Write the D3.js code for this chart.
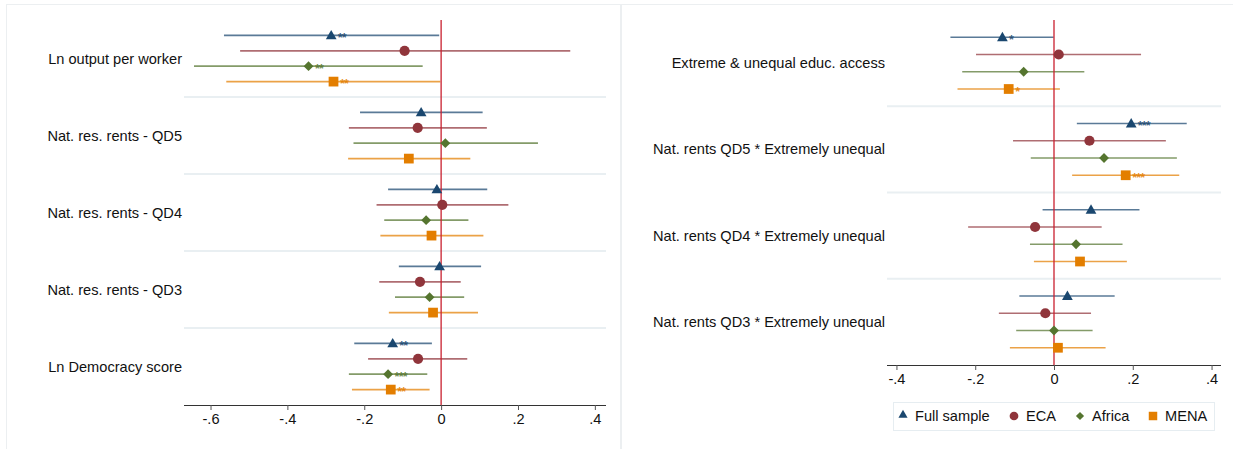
<!DOCTYPE html>
<html>
<head>
<meta charset="utf-8">
<script src="https://cdn.jsdelivr.net/npm/d3@7"></script>
<style>
  html, body { margin: 0; padding: 0; background: #fff; }
  svg { display: block; font-family: "Liberation Sans", Arial, Helvetica, sans-serif; }
</style>
</head>
<body>
<svg id="chart" width="1233" height="449"></svg>
<script>
// ---------------- DATA ----------------
const seriesNames = ["Full sample", "ECA", "Africa", "MENA"];
const seriesColors = ["#1a476f", "#90353b", "#55752f", "#e37e00"];

// Left panel
const leftCategories = ["Ln output per worker", "Nat. res. rents - QD5", "Nat. res. rents - QD4", "Nat. res. rents - QD3", "Ln Democracy score"];
const leftFullEst = [-0.286, -0.052, -0.011, -0.004, -0.126];
const leftFullLo  = [-0.565, -0.211, -0.138, -0.110, -0.226];
const leftFullHi  = [-0.005,  0.108,  0.120,  0.104, -0.024];
const leftFullStars = ["**", "", "", "", "**"];
const leftEcaEst = [-0.095, -0.061, 0.003, -0.055, -0.060];
const leftEcaLo  = [-0.523, -0.240, -0.168, -0.161, -0.190];
const leftEcaHi  = [ 0.336,  0.119,  0.175,  0.051,  0.068];
const leftEcaStars = ["", "", "", "", ""];
const leftAfrEst = [-0.345, 0.011, -0.039, -0.030, -0.138];
const leftAfrLo  = [-0.643, -0.228, -0.148, -0.120, -0.240];
const leftAfrHi  = [-0.048,  0.252,  0.071,  0.060, -0.036];
const leftAfrStars = ["**", "", "", "", "***"];
const leftMenaEst = [-0.280, -0.084, -0.025, -0.021, -0.131];
const leftMenaLo  = [-0.559, -0.242, -0.158, -0.136, -0.232];
const leftMenaHi  = [-0.002,  0.076,  0.110,  0.096, -0.030];
const leftMenaStars = ["**", "", "", "", "**"];
const leftTicks = [-0.6, -0.4, -0.2, 0, 0.2, 0.4];
const leftTickLabels = ["-.6", "-.4", "-.2", "0", ".2", ".4"];

// Right panel
const rightCategories = ["Extreme & unequal educ. access", "Nat. rents QD5 * Extremely unequal", "Nat. rents QD4 * Extremely unequal", "Nat. rents QD3 * Extremely unequal"];
const rightFullEst = [-0.131, 0.196, 0.094, 0.034];
const rightFullLo  = [-0.263, 0.058, -0.029, -0.088];
const rightFullHi  = [-0.001, 0.337, 0.217, 0.154];
const rightFullStars = ["*", "***", "", ""];
const rightEcaEst = [0.012, 0.090, -0.048, -0.022];
const rightEcaLo  = [-0.198, -0.104, -0.218, -0.140];
const rightEcaHi  = [0.221, 0.284, 0.121, 0.094];
const rightEcaStars = ["", "", "", ""];
const rightAfrEst = [-0.077, 0.127, 0.056, 0.000];
const rightAfrLo  = [-0.233, -0.059, -0.061, -0.096];
const rightAfrHi  = [0.077, 0.312, 0.174, 0.098];
const rightAfrStars = ["", "", "", ""];
const rightMenaEst = [-0.115, 0.182, 0.066, 0.010];
const rightMenaLo  = [-0.245, 0.046, -0.051, -0.112];
const rightMenaHi  = [0.015, 0.318, 0.185, 0.131];
const rightMenaStars = ["*", "***", "", ""];
const rightTicks = [-0.4, -0.2, 0, 0.2, 0.4];
const rightTickLabels = ["-.4", "-.2", "0", ".2", ".4"];

// ---------------- BUILD ----------------
function seriesRows(cats, est, lo, hi, stars) {
  return cats.map((c, i) => ({cat: c, est: est[i], lo: lo[i], hi: hi[i], stars: stars[i]}));
}
const leftSeries = [
  seriesRows(leftCategories, leftFullEst, leftFullLo, leftFullHi, leftFullStars),
  seriesRows(leftCategories, leftEcaEst, leftEcaLo, leftEcaHi, leftEcaStars),
  seriesRows(leftCategories, leftAfrEst, leftAfrLo, leftAfrHi, leftAfrStars),
  seriesRows(leftCategories, leftMenaEst, leftMenaLo, leftMenaHi, leftMenaStars)
];
const rightSeries = [
  seriesRows(rightCategories, rightFullEst, rightFullLo, rightFullHi, rightFullStars),
  seriesRows(rightCategories, rightEcaEst, rightEcaLo, rightEcaHi, rightEcaStars),
  seriesRows(rightCategories, rightAfrEst, rightAfrLo, rightAfrHi, rightAfrStars),
  seriesRows(rightCategories, rightMenaEst, rightMenaLo, rightMenaHi, rightMenaStars)
];

const symbolTypes = [d3.symbolTriangle, d3.symbolCircle, d3.symbolSquare, d3.symbolSquare];
const symbolSizes = [50, 82, 48, 95];
const symbolRot = [0, 0, 45, 0];

const svg = d3.select("#chart");

// panel frames
svg.append("rect").attr("x", 6.5).attr("y", 4.5).attr("width", 614).attr("height", 450)
  .attr("fill", "none").attr("stroke", "#eceff1").attr("stroke-width", 1);
svg.append("rect").attr("x", 621.5).attr("y", 4.5).attr("width", 612).attr("height", 450)
  .attr("fill", "none").attr("stroke", "#eceff1").attr("stroke-width", 1);

function drawPanel(cfg) {
  const g = svg.append("g");
  const x = d3.scaleLinear().domain(cfg.xDomain).range([cfg.x0, cfg.x1]);
  const y = d3.scaleBand().domain(cfg.categories).range([cfg.y0, cfg.y1]).paddingInner(0).paddingOuter(0);
  const inner = d3.scalePoint().domain(seriesNames).range([y.bandwidth() * 0.2, y.bandwidth() * 0.8]);

  // separators
  g.selectAll("line.sep").data(cfg.categories.slice(1)).join("line")
    .attr("x1", cfg.x0).attr("x2", cfg.x1)
    .attr("y1", d => y(d)).attr("y2", d => y(d))
    .attr("stroke", "#e9eff2").attr("stroke-width", 2);

  // category labels
  g.selectAll("text.cat").data(cfg.categories).join("text")
    .attr("x", cfg.labelX).attr("y", d => y(d) + y.bandwidth() / 2 + 5)
    .attr("text-anchor", "end").attr("font-size", "14.6px").attr("fill", "#111")
    .text(d => d);

  // axis
  const axis = d3.axisBottom(x).tickValues(cfg.ticks).tickSize(5).tickPadding(4)
    .tickFormat((d, i) => cfg.tickLabels[i]);
  const ax = g.append("g").attr("transform", `translate(0,${cfg.y1})`).call(axis);
  ax.select(".domain").attr("d", `M${cfg.x0},0.5H${cfg.x1}`).attr("stroke", "#333").attr("stroke-width", 1.2);
  ax.selectAll(".tick line").attr("stroke", "#555");
  ax.selectAll(".tick text").attr("font-size", "14.6px").attr("fill", "#111")
    .attr("font-family", "Liberation Sans, Arial, sans-serif");

  // CI lines
  cfg.series.forEach((rows, si) => {
    const sg = g.append("g");
    sg.selectAll("line").data(rows).join("line")
      .attr("x1", d => x(d.lo)).attr("x2", d => x(d.hi))
      .attr("y1", d => y(d.cat) + inner(seriesNames[si]))
      .attr("y2", d => y(d.cat) + inner(seriesNames[si]))
      .attr("stroke", seriesColors[si]).attr("stroke-opacity", 0.72).attr("stroke-width", 1.7);
  });

  // zero line
  g.append("line").attr("x1", x(0)).attr("x2", x(0)).attr("y1", cfg.y0).attr("y2", cfg.y1)
    .attr("stroke", "#c9202f").attr("stroke-width", 1.3);

  // markers and stars
  cfg.series.forEach((rows, si) => {
    const sg = g.append("g");
    const sym = d3.symbol().type(symbolTypes[si]).size(symbolSizes[si]);
    sg.selectAll("path").data(rows).join("path")
      .attr("d", sym)
      .attr("transform", d => `translate(${x(d.est)},${y(d.cat) + inner(seriesNames[si]) + (si === 0 ? 0.8 : 0)}) rotate(${symbolRot[si]})`)
      .attr("fill", seriesColors[si]);
    sg.selectAll("text").data(rows.filter(d => d.stars)).join("text")
      .attr("x", d => x(d.est) + 6.5)
      .attr("y", d => y(d.cat) + inner(seriesNames[si]) + 6.5)
      .attr("font-size", "12.5px").attr("font-weight", "bold")
      .attr("fill", seriesColors[si]).attr("fill-opacity", 0.85)
      .attr("letter-spacing", "-0.8px")
      .text(d => d.stars);
  });
  return {x, y};
}

drawPanel({
  categories: leftCategories, series: leftSeries,
  xDomain: [-0.669, 0.429], x0: 184, x1: 606,
  y0: 20, y1: 405, labelX: 182,
  ticks: leftTicks, tickLabels: leftTickLabels
});

drawPanel({
  categories: rightCategories, series: rightSeries,
  xDomain: [-0.424, 0.424], x0: 887, x1: 1221,
  y0: 20, y1: 365, labelX: 885,
  ticks: rightTicks, tickLabels: rightTickLabels
});

// legend
const legend = svg.append("g");
legend.append("rect").attr("x", 893.5).attr("y", 402.5).attr("width", 321).attr("height", 28)
  .attr("fill", "#fff").attr("stroke", "#e6edf1").attr("stroke-width", 1);
const legendSymX = [903, 1014, 1080, 1153];
const legendSizes = [36, 60, 34, 72];
seriesNames.forEach((name, i) => {
  const sym = d3.symbol().type(symbolTypes[i]).size(legendSizes[i]);
  legend.append("path").attr("d", sym)
    .attr("transform", `translate(${legendSymX[i]},${i === 0 ? 415 : 416}) rotate(${symbolRot[i]})`)
    .attr("fill", seriesColors[i]);
  legend.append("text").attr("x", legendSymX[i] + 12).attr("y", 421)
    .attr("font-size", "14.6px").attr("fill", "#111").text(name);
});
</script>
</body>
</html>
